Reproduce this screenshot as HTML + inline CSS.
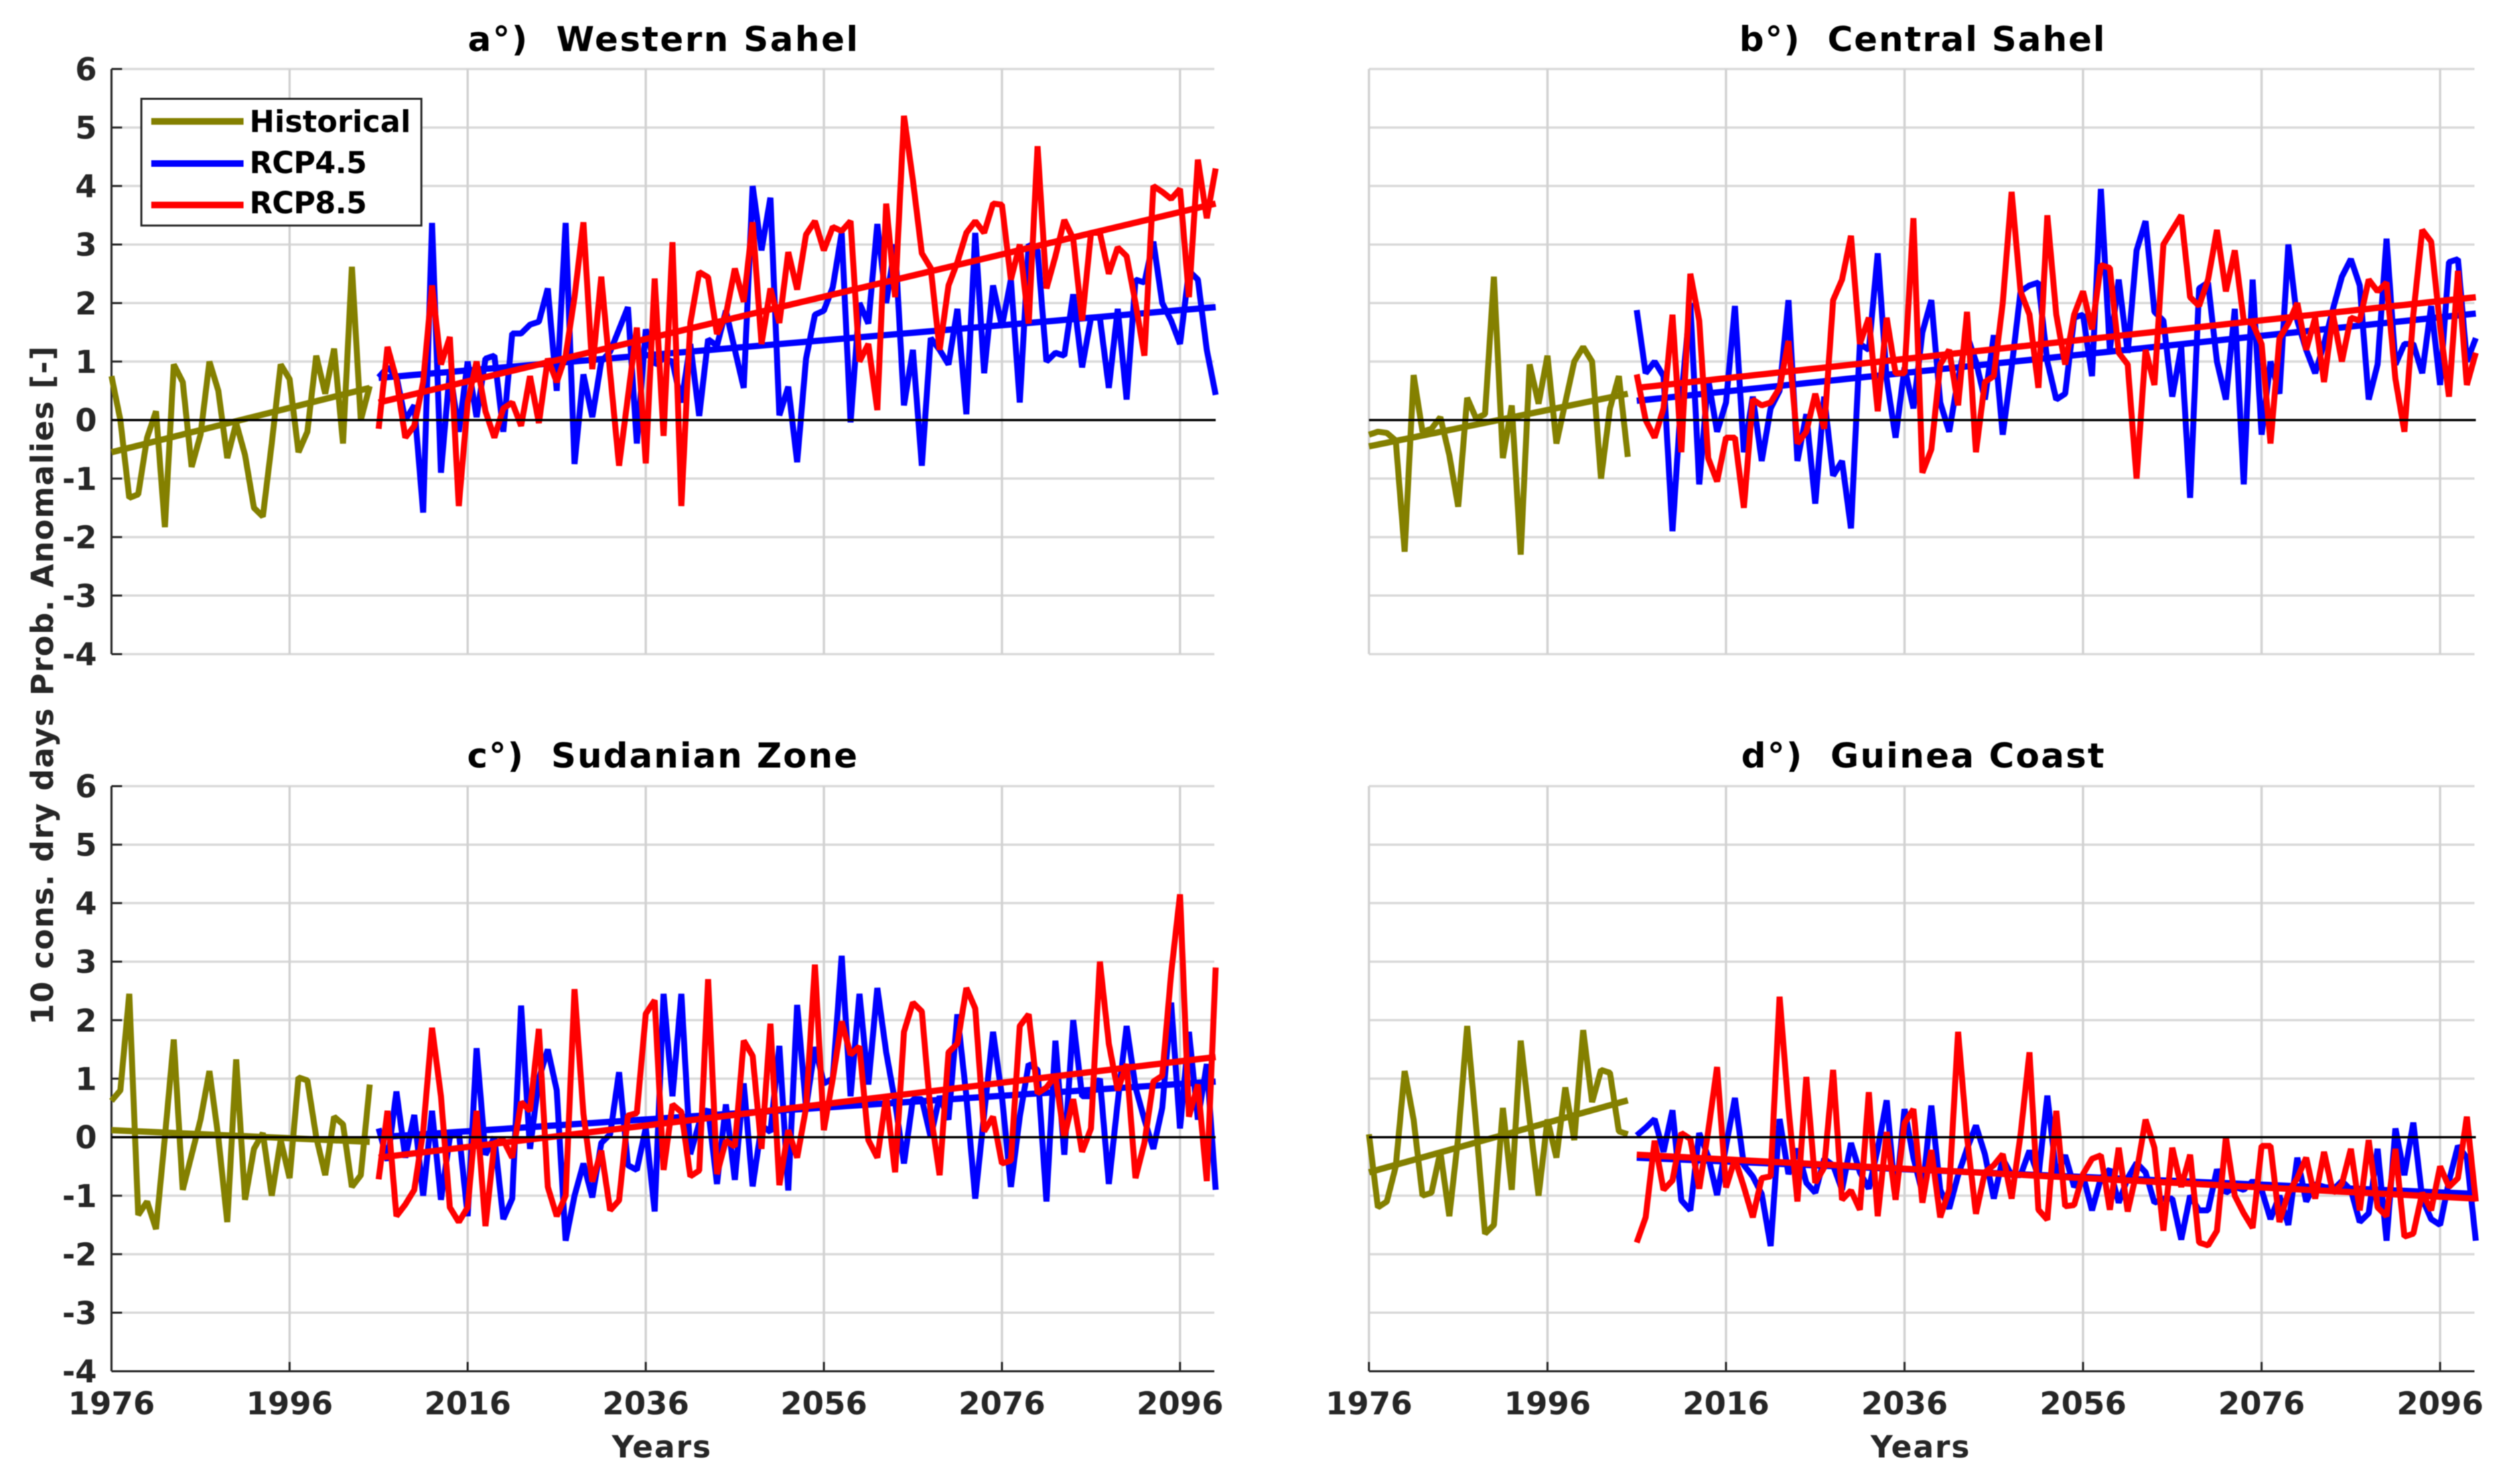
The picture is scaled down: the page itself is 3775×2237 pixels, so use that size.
<!DOCTYPE html>
<html lang="en">
<head>
<meta charset="utf-8">
<title>10 consecutive dry days probability anomalies</title>
<style>
  html, body { margin: 0; padding: 0; background: #fff; }
  svg { display: block; filter: blur(0.7px); }
  text { font-family: "DejaVu Sans", "Liberation Sans", sans-serif; font-weight: bold; white-space: pre; }
</style>
</head>
<body>
<svg id="chart" xmlns="http://www.w3.org/2000/svg" width="3775" height="2237" viewBox="0 0 3775 2237">
  <rect x="0" y="0" width="3775" height="2237" fill="#ffffff"/>
  <g id="plots"></g>

  <text x="705" y="77" font-size="52" fill="#000" textLength="588" lengthAdjust="spacing">a°)  Western Sahel</text>
  <text x="2621" y="77" font-size="52" fill="#000" textLength="551" lengthAdjust="spacing">b°)  Central Sahel</text>
  <text x="704" y="1157" font-size="52" fill="#000" textLength="588" lengthAdjust="spacing">c°)  Sudanian Zone</text>
  <text x="2624" y="1157" font-size="52" fill="#000" textLength="547" lengthAdjust="spacing">d°)  Guinea Coast</text>

  <text transform="translate(80,1545) rotate(-90)" font-size="46" fill="#262626" textLength="1023" lengthAdjust="spacing">10 cons. dry days Prob. Anomalies [-]</text>
  <text x="922" y="2197" font-size="46" fill="#262626" textLength="149" lengthAdjust="spacing">Years</text>
  <text x="2819" y="2197" font-size="46" fill="#262626" textLength="149" lengthAdjust="spacing">Years</text>

  <g>
    <rect x="213" y="149" width="422" height="191" fill="#ffffff" stroke="#262626" stroke-width="3"/>
    <line x1="228" x2="367" y1="183" y2="183" stroke="#848000" stroke-width="10"/>
    <text x="376" y="199" font-size="45" fill="#000" textLength="243" lengthAdjust="spacing">Historical</text>
    <line x1="228" x2="367" y1="246.5" y2="246.5" stroke="#0000ff" stroke-width="10"/>
    <text x="376" y="261" font-size="45" fill="#000" textLength="177" lengthAdjust="spacing">RCP4.5</text>
    <line x1="228" x2="367" y1="309" y2="309" stroke="#ff0000" stroke-width="10"/>
    <text x="376" y="321.5" font-size="45" fill="#000" textLength="177" lengthAdjust="spacing">RCP8.5</text>
  </g>
</svg>
<script>
// ---- axis tick values ----
const yTicks = [6, 5, 4, 3, 2, 1, 0, -1, -2, -3, -4];
const yTickLabels = ['6', '5', '4', '3', '2', '1', '0', '-1', '-2', '-3', '-4'];
const xTicks = [1976, 1996, 2016, 2036, 2056, 2076, 2096];
const xTickLabels = ['1976', '1996', '2016', '2036', '2056', '2076', '2096'];
const histStartYear = 1976;
const rcpStartYear = 2006;
const trendYearsHist = [1976, 2005];
const trendYearsRcp = [2006, 2100];

// ---- panel a: Western Sahel ----
const aHist = [0.75,0,-1.33,-1.27,-0.3,0.15,-1.83,0.95,0.65,-0.8,
  -0.25,1,0.5,-0.65,-0.05,-0.6,-1.5,-1.65,-0.4,0.95,
  0.7,-0.55,-0.2,1.1,0.45,1.22,-0.4,2.62,0,0.58];
const aRcp45 = [0.73,0.9,0.75,0,0.25,-1.58,3.37,-0.9,0.85,-0.2,
  1,0.05,1.05,1.1,-0.2,1.48,1.48,1.63,1.68,2.25,
  0.5,3.37,-0.75,0.78,0.05,1,1.17,1.55,1.93,-0.4,
  1.55,0.95,1.05,1,0.3,1.3,0.07,1.38,1.27,1.87,
  1.2,0.55,4,2.9,3.8,0.08,0.57,-0.72,1.05,1.8,
  1.87,2.27,3.2,-0.04,2,1.65,3.35,2,3,0.25,
  1.2,-0.78,1.4,1.2,0.95,1.9,0.1,3.2,0.8,2.3,
  1.6,2.4,0.3,3,2.9,1,1.15,1.1,2.15,0.9,
  1.75,1.75,0.55,1.9,0.35,2.4,2.35,3.05,2,1.7,
  1.3,2.55,2.4,1.2,0.43];
const aRcp85 = [-0.15,1.25,0.7,-0.3,-0.1,0.65,2.3,0.95,1.42,-1.47,
  0.3,1,0.15,-0.3,0.2,0.3,-0.1,0.75,-0.05,1.05,
  0.65,1.1,2.1,3.38,0.87,2.45,0.8,-0.78,0.4,1.58,
  -0.74,2.42,-0.27,3.04,-1.47,1.66,2.53,2.44,1.47,1.8,
  2.59,2.02,3.38,1.3,2.25,1.66,2.87,2.23,3.17,3.4,
  2.9,3.3,3.23,3.4,1,1.3,0.17,3.7,2.1,5.2,
  4.1,2.85,2.6,1.2,2.3,2.7,3.2,3.4,3.2,3.7,
  3.68,2.4,3,1.65,4.68,2.25,2.8,3.42,3.1,1.7,
  3.2,3.2,2.5,2.95,2.8,2,1.1,4,3.9,3.78,
  3.95,2.1,4.45,3.45,4.3];
const aTrendHist = [-0.55, 0.55];
const aTrend45 = [0.72, 1.93];
const aTrend85 = [0.3, 3.7];

// ---- panel b: Central Sahel ----
const bHist = [-0.25,-0.2,-0.22,-0.35,-2.25,0.77,-0.2,-0.15,0.05,-0.6,
  -1.48,0.38,0.03,0.1,2.45,-0.65,0.25,-2.3,0.95,0.28,
  1.1,-0.4,0.3,1,1.25,1,-1,0.2,0.75,-0.63];
const bRcp45 = [1.88,0.8,1,0.75,-1.9,0.4,2,-1.1,0.7,-0.2,
  0.3,1.95,-0.55,0.4,-0.7,0.2,0.5,2.05,-0.7,0.1,
  -1.43,0.4,-0.95,-0.7,-1.85,1.3,1.2,2.85,0.7,-0.3,
  0.9,0.2,1.5,2.05,0.3,-0.2,0.7,1.45,1,0.35,
  1.45,-0.25,0.9,2.2,2.3,2.35,1,0.35,0.45,1.75,
  1.8,0.75,3.95,1.2,2.4,1.15,2.9,3.4,1.85,1.7,
  0.4,1.25,-1.33,2.25,2.35,1,0.35,1.9,-1.1,2.4,
  -0.25,1,0.45,3,1.7,1.2,0.8,1.3,1.9,2.45,
  2.75,2.3,0.35,0.95,3.1,0.95,1.3,1.3,0.8,1.95,
  0.6,2.7,2.75,1,1.4];
const bRcp85 = [0.78,0,-0.3,0.2,1.8,-0.55,2.5,1.7,-0.65,-1.05,
  -0.3,-0.3,-1.5,0.35,0.25,0.3,0.55,1.35,-0.4,-0.2,
  0.45,-0.15,2.05,2.4,3.15,1.3,1.75,0.15,1.75,0.8,
  0.8,3.45,-0.9,-0.5,0.95,1.2,0.25,1.85,-0.55,0.65,
  0.75,2,3.9,2.2,1.8,0.55,3.5,1.8,0.95,1.8,
  2.2,1.55,2.65,2.6,1.15,0.95,-1,1.2,0.6,3,
  3.25,3.5,2.1,1.95,2.4,3.25,2.2,2.9,1.7,1.65,
  1.3,-0.4,1.4,1.65,2,1.2,1.75,0.65,1.8,1,
  1.75,1.7,2.4,2.2,2.35,0.7,-0.2,1.8,3.25,3.05,
  1.6,0.4,2.55,0.6,1.15];
const bTrendHist = [-0.45, 0.45];
const bTrend45 = [0.33, 1.82];
const bTrend85 = [0.55, 2.1];

// ---- panel c: Sudanian Zone ----
const cHist = [0.62,0.8,2.45,-1.33,-1.1,-1.57,0,1.67,-0.9,-0.3,
  0.3,1.13,0,-1.45,1.33,-1.07,-0.2,0.07,-1,-0.05,
  -0.7,1.02,0.97,0,-0.65,0.35,0.22,-0.85,-0.65,0.9];
const cRcp45 = [0.15,-0.4,0.78,-0.35,0.38,-1,0.45,-1.07,0,0.1,
  -1.35,1.52,-0.3,0,-1.4,-1.05,2.25,-0.2,1,1.5,
  0.8,-1.77,-1,-0.45,-1.03,-0.1,0.05,1.11,-0.48,-0.56,
  0.16,-1.27,2.45,0.7,2.45,-0.29,0.24,0.48,-0.8,0.56,
  -0.73,0.92,-0.84,0.2,0.09,1.56,-0.91,2.26,0.5,1.54,
  0.92,1,3.1,0.7,2.45,0.9,2.55,1.45,0.6,-0.45,
  0.65,0.65,0,0.7,0.3,2.1,0.7,-1.05,0.4,1.8,
  0.7,-0.85,0.35,1.25,1.15,-1.1,1.65,-0.3,2,0.7,
  0.7,1,-0.8,0.6,1.9,0.85,0.3,-0.2,0.5,2.3,
  0.15,1.8,0.3,1.25,-0.9];
const cRcp85 = [-0.72,0.45,-1.35,-1.15,-0.9,0.1,1.87,0.7,-1.2,-1.45,
  -1.2,0.45,-1.52,-0.1,-0.05,-0.35,0.6,0.45,1.85,-0.85,
  -1.35,-1,2.53,0.4,-0.76,-0.23,-1.25,-1.08,0.37,0.41,
  2.11,2.34,-0.56,0.56,0.43,-0.67,-0.57,2.7,-0.63,-0.06,
  -0.16,1.65,1.39,-0.2,1.94,-0.82,0.12,-0.35,0.5,2.95,
  0.12,1,1.98,1.41,1.55,-0.05,-0.35,0.7,-0.6,1.8,
  2.3,2.15,0.4,-0.65,1.45,1.6,2.55,2.2,0.1,0.35,
  -0.45,-0.4,1.9,2.1,0.75,0.85,1.05,0,0.65,-0.25,
  0.15,3,1.6,0.8,1.25,-0.7,-0.1,0.95,1.05,2.8,
  4.15,0.35,0.9,-0.75,2.9];
const cTrendHist = [0.12, -0.08];
const cTrend45 = [0, 0.95];
const cTrend85 = [-0.35, 1.37];

// ---- panel d: Guinea Coast ----
const dHist = [0.05,-1.2,-1.1,-0.5,1.13,0.3,-1,-0.95,-0.25,-1.35,
  0,1.9,0.2,-1.65,-1.5,0.5,-0.9,1.65,0.3,-1,
  0.3,-0.35,0.85,-0.05,1.83,0.6,1.15,1.1,0.1,0.05];
const dRcp45 = [0.03,0.16,0.31,-0.25,0.46,-1.08,-1.25,0.07,-0.33,-0.99,
  -0.15,0.67,-0.48,-0.67,-0.97,-1.86,0.31,-0.63,-0.2,-0.78,
  -0.95,-0.37,-0.48,-0.9,-0.1,-0.6,-0.88,-0.2,0.63,-1.07,
  0.48,-0.35,-0.95,0.54,-0.9,-1.22,-0.65,-0.2,0.2,-0.29,
  -1.05,-0.37,-0.65,-0.65,-0.23,-0.67,0.71,-0.65,-0.31,-0.85,
  -0.65,-1.25,-0.7,-0.55,-1.12,-0.7,-0.44,-0.6,-1.12,-1.05,
  -1.05,-1.75,-1,-1.25,-1.25,-0.55,-0.95,-0.85,-0.9,-0.75,
  -0.9,-1.4,-1,-1.5,-0.35,-1.1,-0.8,-0.85,-0.9,-0.75,
  -0.9,-1.45,-1.3,-0.2,-1.77,0.15,-0.65,0.25,-1.05,-1.4,
  -1.5,-0.75,-0.15,-0.35,-1.77];
const dRcp85 = [-1.8,-1.37,-0.06,-0.9,-0.74,0.07,-0.03,-0.88,0.1,1.2,
  -0.86,-0.37,-0.85,-1.37,-0.7,-0.67,2.4,0.5,-1.1,1.03,
  -0.78,-0.52,1.15,-1.07,-0.91,-1.24,0.77,-1.35,0.09,-1.07,
  0.24,0.48,-1.12,-0.22,-1.37,-0.9,1.8,0,-1.31,-0.6,
  -0.48,-0.29,-1.05,0.05,1.45,-1.24,-1.41,0.45,-1.18,-1.16,
  -0.63,-0.37,-0.31,-1.24,-0.18,-1.27,-0.6,0.3,-0.18,-1.6,
  -0.18,-0.85,-0.3,-1.8,-1.85,-1.6,0,-1,-1.3,-1.55,
  -0.15,-0.15,-1.45,-0.95,-0.7,-0.35,-1.05,-0.25,-0.95,-0.8,
  -0.2,-1.25,-0.05,-1.2,-1.35,-0.2,-1.7,-1.65,-0.95,-1.25,
  -0.5,-0.85,-0.7,0.35,-1.1];
const dTrendHist = [-0.6, 0.63];
const dTrend45 = [-0.35, -0.97];
const dTrend85 = [-0.3, -1.05];

const NS = 'http://www.w3.org/2000/svg';
const root = document.getElementById('plots');

function xScale(p, year) {
  return p.left + (year - 1976) * (p.right - p.left) / (2100 - 1976);
}
function yScale(p, value) {
  return p.top + (6 - value) * (p.bottom - p.top) / 10;
}

function drawLine(key, name, x1, y1, x2, y2, color, width) {
  const el = document.createElementNS(NS, 'line');
  
  
  el.setAttribute('x1', x1);
  el.setAttribute('y1', y1);
  el.setAttribute('x2', x2);
  el.setAttribute('y2', y2);
  el.setAttribute('stroke', color);
  el.setAttribute('stroke-width', width);
  root.appendChild(el);
}

function drawSeries(p, name, values, startYear, color, width) {
  const pts = values.map(function (v, i) {
    return xScale(p, startYear + i).toFixed(1) + ',' + yScale(p, v).toFixed(1);
  });
  const el = document.createElementNS(NS, 'polyline');
  
  
  el.setAttribute('points', pts.join(' '));
  el.setAttribute('fill', 'none');
  el.setAttribute('stroke', color);
  el.setAttribute('stroke-width', width);
  el.setAttribute('stroke-linejoin', 'bevel');
  root.appendChild(el);
}

function drawTrend(p, name, years, values, color) {
  const el = document.createElementNS(NS, 'line');
  
  
  el.setAttribute('x1', xScale(p, years[0]));
  el.setAttribute('y1', yScale(p, values[0]));
  el.setAttribute('x2', xScale(p, years[1]));
  el.setAttribute('y2', yScale(p, values[1]));
  el.setAttribute('stroke', color);
  el.setAttribute('stroke-width', 9.5);
  root.appendChild(el);
}

function drawLabel(key, name, x, y, anchor, content) {
  const el = document.createElementNS(NS, 'text');
  
  
  el.setAttribute('x', x);
  el.setAttribute('y', y);
  el.setAttribute('text-anchor', anchor);
  el.setAttribute('font-size', 47);
  el.setAttribute('fill', '#262626');
  el.textContent = content;
  root.appendChild(el);
}

function drawPanel(p) {
  const hGridColor = '#d9d9d9';
  const vGridColor = '#d2d2d2';
  const axisColor = '#262626';
  yTicks.forEach(function (t) {
    drawLine(p.key, 'y-grid-' + t, p.left, yScale(p, t), p.right - 2, yScale(p, t), hGridColor, 3.5);
  });
  xTicks.forEach(function (t) {
    drawLine(p.key, 'x-grid-' + t, xScale(p, t), p.top, xScale(p, t), p.bottom, vGridColor, 3.5);
  });
  if (p.showY) {
    drawLine(p.key, 'y-axis', p.left, p.top, p.left, p.bottom, axisColor, 3);
    yTicks.forEach(function (t, i) {
      drawLine(p.key, 'y-tick-' + t, p.left, yScale(p, t), p.left + 16, yScale(p, t), axisColor, 3);
      drawLabel(p.key, 'y-tick-label-' + t, p.left - 22, yScale(p, t) + 17, 'end', yTickLabels[i]);
    });
  }
  if (p.showX) {
    drawLine(p.key, 'x-axis', p.left, p.bottom, p.right - 2, p.bottom, axisColor, 3);
    xTicks.forEach(function (t, i) {
      drawLine(p.key, 'x-tick-' + t, xScale(p, t), p.bottom, xScale(p, t), p.bottom - 14, axisColor, 3);
      drawLabel(p.key, 'x-tick-label-' + t, xScale(p, t), 2132, 'middle', xTickLabels[i]);
    });
  }
  drawSeries(p, 'historical-series', p.hist, histStartYear, '#848000', 9);
  drawTrend(p, 'historical-trend', trendYearsHist, p.trendHist, '#848000');
  drawSeries(p, 'rcp45-series', p.rcp45, rcpStartYear, '#0000ff', 9);
  drawTrend(p, 'rcp45-trend', trendYearsRcp, p.trend45, '#0000ff');
  drawSeries(p, 'rcp85-series', p.rcp85, rcpStartYear, '#ff0000', 9);
  drawTrend(p, 'rcp85-trend', trendYearsRcp, p.trend85, '#ff0000');
  drawLine(p.key, 'zero-line', p.left, yScale(p, 0), p.right, yScale(p, 0), '#000000', 3.5);
}

drawPanel({ key: 'panel-a', left: 168, right: 1832, top: 104, bottom: 986, showY: true, showX: false,
  hist: aHist, rcp45: aRcp45, rcp85: aRcp85, trendHist: aTrendHist, trend45: aTrend45, trend85: aTrend85 });
drawPanel({ key: 'panel-b', left: 2063, right: 3731, top: 104, bottom: 986, showY: false, showX: false,
  hist: bHist, rcp45: bRcp45, rcp85: bRcp85, trendHist: bTrendHist, trend45: bTrend45, trend85: bTrend85 });
drawPanel({ key: 'panel-c', left: 168, right: 1832, top: 1185, bottom: 2067, showY: true, showX: true,
  hist: cHist, rcp45: cRcp45, rcp85: cRcp85, trendHist: cTrendHist, trend45: cTrend45, trend85: cTrend85 });
drawPanel({ key: 'panel-d', left: 2063, right: 3731, top: 1185, bottom: 2067, showY: false, showX: true,
  hist: dHist, rcp45: dRcp45, rcp85: dRcp85, trendHist: dTrendHist, trend45: dTrend45, trend85: dTrend85 });
</script>
</body>
</html>
